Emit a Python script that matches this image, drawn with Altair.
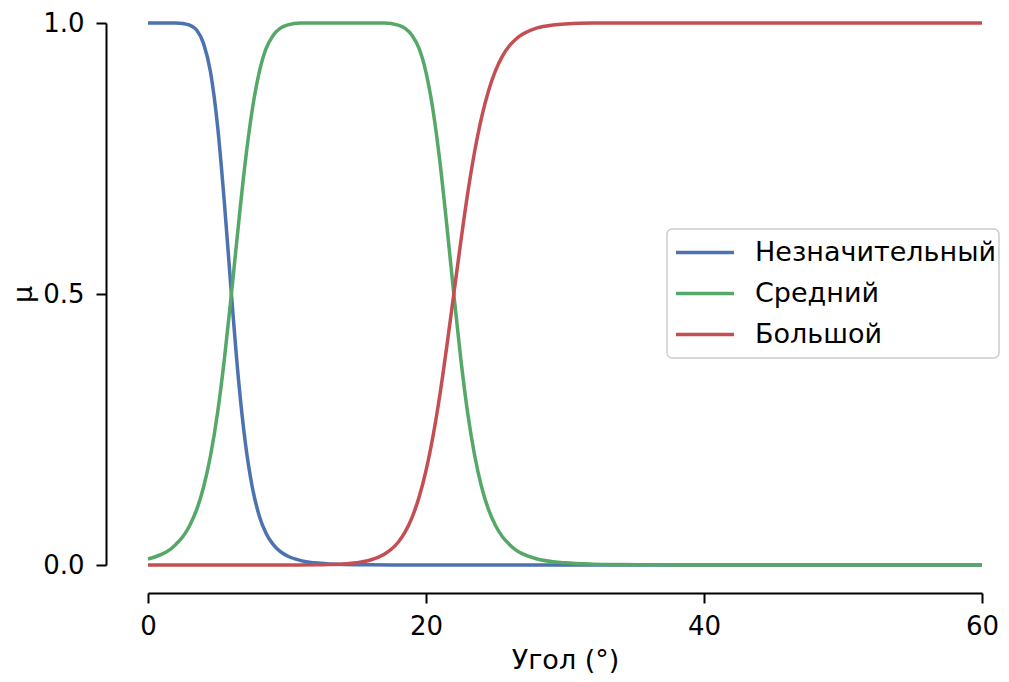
import altair as alt
import pandas as pd

# Membership curves
low_x = [0, 1, 2, 2.5, 3, 3.5, 4, 4.5, 5, 5.5, 6, 6.5, 7, 7.5, 8, 8.5, 9, 9.5, 10, 11, 12, 13, 14, 16, 20, 30, 40, 50, 60]
low_y = [1.0, 1.0, 1.0, 0.999, 0.996, 0.987, 0.962, 0.909, 0.811, 0.667, 0.5, 0.345, 0.226, 0.144, 0.091, 0.058, 0.038, 0.025, 0.017, 0.008, 0.004, 0.002, 0.001, 0.0004, 0.0001, 0.0, 0.0, 0.0, 0.0]

mid_x = [0, 1, 1.5, 2, 2.5, 3, 3.5, 4, 4.5, 5, 5.5, 6, 6.5, 7, 7.5, 8, 8.5, 9, 9.5, 10, 11, 14, 17, 18, 18.5, 19, 19.5, 20, 20.5, 21, 21.5, 22, 22.5, 23, 23.5, 24, 24.5, 25, 25.5, 26, 26.5, 27, 28, 30, 32, 34, 36, 40, 50, 60]
mid_y = [0.011, 0.020, 0.027, 0.038, 0.052, 0.073, 0.102, 0.144, 0.202, 0.280, 0.381, 0.5, 0.626, 0.744, 0.840, 0.909, 0.953, 0.977, 0.990, 0.996, 1.0, 1.0, 1.0, 0.996, 0.990, 0.977, 0.953, 0.909, 0.840, 0.744, 0.626, 0.5, 0.381, 0.280, 0.202, 0.144, 0.102, 0.073, 0.052, 0.038, 0.027, 0.020, 0.011, 0.004, 0.0015, 0.0007, 0.0003, 0.0001, 0.0, 0.0]

high_x = [0, 5, 10, 12, 13, 14, 15, 16, 17, 17.5, 18, 18.5, 19, 19.5, 20, 20.5, 21, 21.5, 22, 22.5, 23, 23.5, 24, 24.5, 25, 25.5, 26, 26.5, 27, 28, 29, 30, 32, 40, 50, 60]
high_y = [0.0, 0.0, 0.0001, 0.0004, 0.0009, 0.0019, 0.0042, 0.0092, 0.020, 0.029, 0.042, 0.061, 0.088, 0.125, 0.174, 0.237, 0.314, 0.404, 0.5, 0.596, 0.686, 0.763, 0.826, 0.875, 0.912, 0.939, 0.958, 0.971, 0.980, 0.991, 0.996, 0.998, 1.0, 1.0, 1.0, 1.0]

names = ["Незначительный", "Средний", "Большой"]
colors = ["#4C72B0", "#55A868", "#C44E52"]
x_ticks = [0, 20, 40, 60]
y_ticks = [0, 0.5, 1.0]

rows = []
for name, xs, ys in zip(names, [low_x, mid_x, high_x], [low_y, mid_y, high_y]):
    for i, (a, b) in enumerate(zip(xs, ys)):
        rows.append({"series": name, "x": a, "y": b, "i": i})
df = pd.DataFrame(rows)

font = "DejaVu Sans"

chart = alt.Chart(df).mark_line(strokeWidth=3.5, interpolate="monotone").encode(
    x=alt.X("x:Q",
            scale=alt.Scale(domain=[0, 60], nice=False, zero=False),
            axis=alt.Axis(values=x_ticks, title="Угол (°)", offset=28, grid=False,
                          tickSize=10, tickWidth=2, domainWidth=2, domainColor="black",
                          tickColor="black", labelFontSize=26, labelFont=font, labelColor="black",
                          labelPadding=10, titleFontSize=27, titleFont=font, titleFontWeight="normal",
                          titleColor="black", titlePadding=8, labelFlush=False)),
    y=alt.Y("y:Q",
            scale=alt.Scale(domain=[0, 1], nice=False, zero=False),
            axis=alt.Axis(values=y_ticks, format=".1f", title="μ", offset=42, grid=False,
                          tickSize=10, tickWidth=2, domainWidth=2, domainColor="black",
                          tickColor="black", labelFontSize=26, labelFont=font, labelColor="black",
                          labelPadding=12, titleFontSize=27, titleFont=font, titleFontWeight="normal",
                          titleColor="black", titlePadding=5, labelFlush=False)),
    color=alt.Color("series:N",
                    scale=alt.Scale(domain=names, range=colors),
                    sort=names,
                    legend=alt.Legend(title=None, orient="none", legendX=519, legendY=206,
                                      symbolType="stroke", symbolSize=3364, symbolStrokeWidth=3.5,
                                      symbolOffset=4, clipHeight=41, rowPadding=0,
                                      labelFontSize=27, labelFont=font, labelColor="black",
                                      labelLimit=0, labelOffset=19,
                                      fillColor="white", strokeColor="#cccccc",
                                      cornerRadius=5, padding=3)),
    detail="series:N",
    order="i:Q",
).properties(
    width=834, height=542,
    background="white",
    autosize=alt.AutoSizeParams(type="none"),
    padding={"left": 140, "top": 15, "right": 19, "bottom": 109},
).configure_view(stroke=None).configure_legend(strokeWidth=1.5)

chart.save("out.html", embed_options={"renderer": "svg", "actions": False})
